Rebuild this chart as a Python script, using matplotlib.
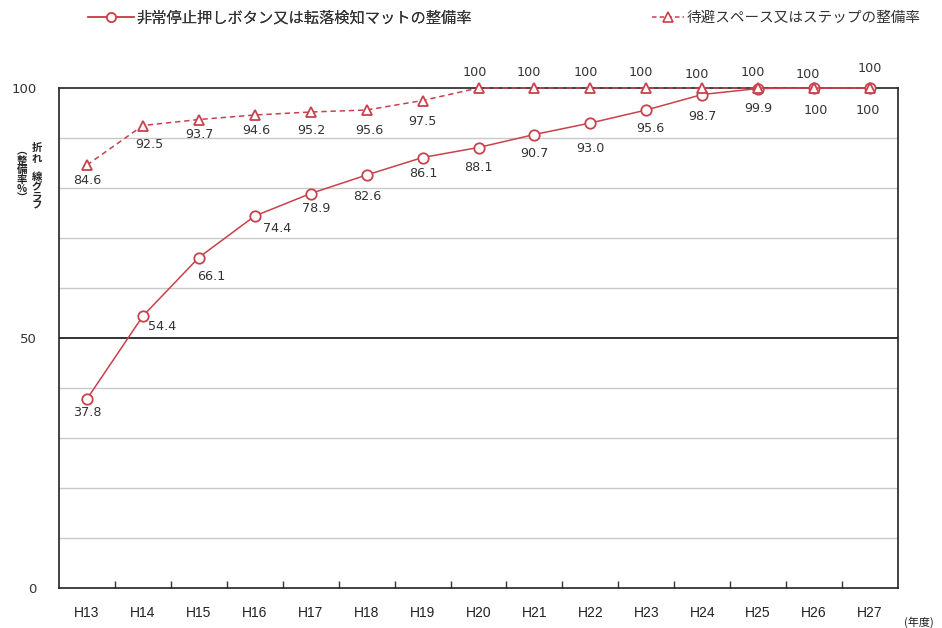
import matplotlib
matplotlib.use("Agg")
import matplotlib.pyplot as plt
from matplotlib.lines import Line2D

# Fiscal years (Heisei)
years = ["H13", "H14", "H15", "H16", "H17", "H18", "H19", "H20",
         "H21", "H22", "H23", "H24", "H25", "H26", "H27"]

# Emergency stop button / fall detection mat installation rate (%)
button_rate = [37.8, 54.4, 66.1, 74.4, 78.9, 82.6, 86.1, 88.1,
               90.7, 93.0, 95.6, 98.7, 99.9, 100, 100]
button_text = ["37.8", "54.4", "66.1", "74.4", "78.9", "82.6", "86.1", "88.1",
               "90.7", "93.0", "95.6", "98.7", "99.9", "100", "100"]

# Refuge space / step installation rate (%)
refuge_rate = [84.6, 92.5, 93.7, 94.6, 95.2, 95.6, 97.5, 100,
               100, 100, 100, 100, 100, 100, 100]
refuge_text = ["84.6", "92.5", "93.7", "94.6", "95.2", "95.6", "97.5", "100",
               "100", "100", "100", "100", "100", "100", "100"]

legend_labels = ["非常停止押しボタン又は転落検知マットの整備率",
                 "待避スペース又はステップの整備率"]

# label offsets in pixels (dx, dy)
button_off = [(0, -14), (19, -10), (12, -19), (22, -13), (5, -15), (1, -22),
              (1, -16), (0, -20), (0, -19), (0, -25), (4, -19), (0, -22),
              (0, -20), (2, -22), (-2, -22)]
refuge_off = [(0, -15), (6, -19), (1, -15), (2, -15), (1, -18), (3, -21),
              (0, -21), (-4, 15), (-6, 15), (-5, 15), (-6, 15), (-5, 13),
              (-5, 15), (-6, 13), (0, 20)]

RED = "#c8414c"
GRID = "#c9c9c9"
JP = ["Noto Sans CJK JP", "DejaVu Sans"]

fig = plt.figure(figsize=(9.42, 6.28), dpi=100)
ax = fig.add_axes([59 / 942, 40 / 628, 839 / 942, 500 / 628])

x = list(range(len(years)))

# horizontal grid
for g in [10, 20, 30, 40, 60, 70, 80, 90]:
    ax.axhline(g, color=GRID, lw=1.0, zorder=1)
ax.axhline(50, color="#111111", lw=1.2, zorder=1)

ax.plot(x, refuge_rate, color=RED, lw=1.1, ls=(0, (3.5, 2.5)), marker="^",
        ms=7.5, mfc="white", mec=RED, mew=1.3, zorder=4, clip_on=False)
ax.plot(x, button_rate, color=RED, lw=1.1, ls="-", marker="o",
        ms=7.5, mfc="white", mec=RED, mew=1.3, zorder=3, clip_on=False)

for xi, v, t, (dx, dy) in zip(x, button_rate, button_text, button_off):
    ax.annotate(t, (xi, v), xytext=(dx, dy), textcoords="offset pixels",
                ha="center", va="center", fontsize=9.2, color="#333333",
                family="DejaVu Sans", zorder=5)
for xi, v, t, (dx, dy) in zip(x, refuge_rate, refuge_text, refuge_off):
    ax.annotate(t, (xi, v), xytext=(dx, dy), textcoords="offset pixels",
                ha="center", va="center", fontsize=9.2, color="#333333",
                family="DejaVu Sans", zorder=5)

ax.set_xlim(-0.5, len(years) - 0.5)
ax.set_ylim(0, 100)

ax.set_yticks([0, 50, 100])
ax.set_yticklabels(["0", "50", "100"], fontsize=9.5, color="#333333")
ax.tick_params(axis="y", length=0, pad=16)

ax.set_xticks(x)
ax.set_xticklabels(years, fontsize=10, color="#222222", family="Liberation Sans")
ax.tick_params(axis="x", which="major", length=0, pad=13)
ax.set_xticks([i + 0.5 for i in x[:-1]], minor=True)
ax.tick_params(axis="x", which="minor", direction="in", length=5,
               width=1.0, color="#333333")

for s in ax.spines.values():
    s.set_color("#222222")
    s.set_linewidth(1.2)

# vertical axis title in two columns
fig.text(37 / 942, 1 - 143 / 628, "折\nれ\n \n線\nグ\nラ\nフ", ha="center",
         va="top", fontsize=7.5, family=JP, linespacing=0.95, color="#222222",
         fontweight="bold")
fig.text(22 / 942, 1 - 146 / 628, "︵\n整\n備\n率\n%\n︶", ha="center",
         va="top", fontsize=7.5, family=JP, linespacing=0.95, color="#222222",
         fontweight="bold")

fig.text(904 / 942, 1 - 622 / 628, "(年度)", ha="left", va="center",
         fontsize=8, family=JP, color="#222222")

# legend entries, placed one by one
h1 = Line2D([], [], color=RED, lw=1.1, marker="o", ms=6.5, mfc="white",
            mec=RED, mew=1.2)
h2 = Line2D([], [], color=RED, lw=1.1, ls=(0, (3, 2)), marker="^", ms=6.5,
            mfc="white", mec=RED, mew=1.2)
leg1 = fig.legend([h1], [legend_labels[0]], loc="center left",
                  bbox_to_anchor=(88 / 942, 1 - 18 / 628), frameon=False,
                  prop={"family": JP, "size": 11, "weight": "normal"},
                  handlelength=3.0, handletextpad=0.2, borderpad=0,
                  borderaxespad=0, labelcolor="#333333")
leg2 = fig.legend([h2], [legend_labels[1]], loc="center left",
                  bbox_to_anchor=(652 / 942, 1 - 18 / 628), frameon=False,
                  prop={"family": JP, "size": 10.5, "weight": "normal"},
                  handlelength=2.2, handletextpad=0.2, borderpad=0,
                  borderaxespad=0, labelcolor="#333333")
fig.add_artist(leg1)

fig.savefig("out.png", dpi=100)
